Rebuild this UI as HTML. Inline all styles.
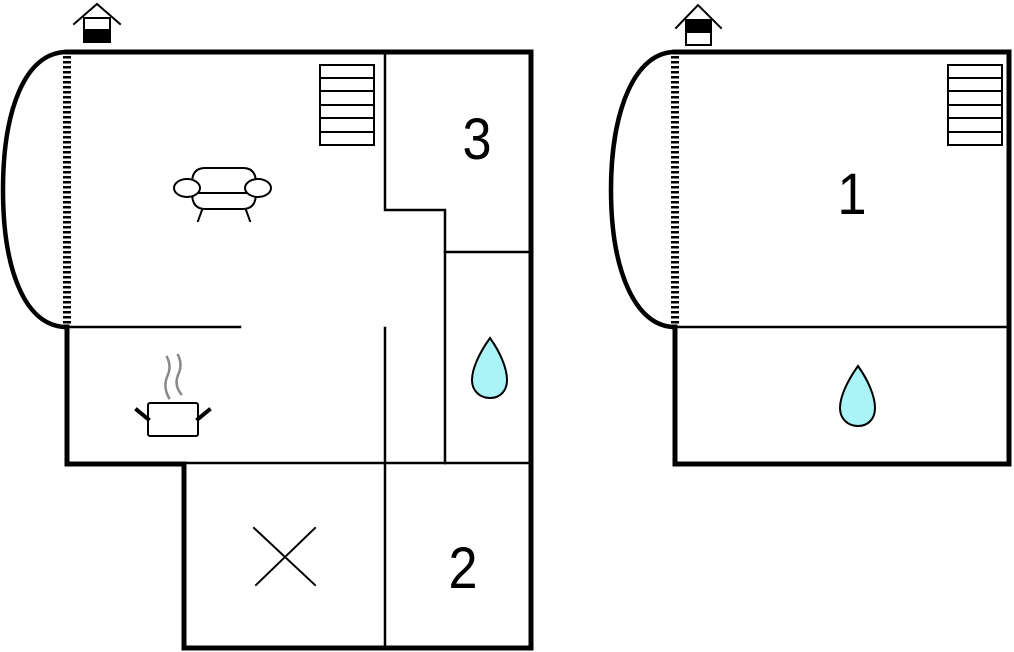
<!DOCTYPE html>
<html><head><style>html,body{margin:0;padding:0;background:#fff;width:1014px;height:652px;overflow:hidden}</style></head>
<body>
<svg width="1014" height="652" viewBox="0 0 1014 652" xmlns="http://www.w3.org/2000/svg">
<g fill="none" stroke="#000" stroke-linecap="square">
<!-- LEFT PLAN outer -->
<path d="M67,52 L531,52 L531,648 L184,648 L184,464 L67,464 L67,327" stroke-width="5"/>
<path d="M67,52 C25,52 3,110 3,190 C3,270 25,327 67,327" stroke-width="4.5"/>
<line x1="67" y1="56" x2="67" y2="326" stroke-width="8" stroke-dasharray="2.5,2.5" stroke-linecap="butt"/>
<g stroke-width="2.5">
<line x1="67" y1="327" x2="240" y2="327"/>
<path d="M385,52 L385,210 L445,210 L445,463"/>
<line x1="445" y1="252" x2="531" y2="252"/>
<line x1="184" y1="463" x2="531" y2="463"/>
<line x1="385" y1="328" x2="385" y2="648"/>
</g>
<!-- stairs left -->
<g stroke-width="2">
<rect x="320" y="65" width="54" height="80"/>
<line x1="320" y1="78" x2="374" y2="78"/><line x1="320" y1="91" x2="374" y2="91"/>
<line x1="320" y1="105" x2="374" y2="105"/><line x1="320" y1="118" x2="374" y2="118"/>
<line x1="320" y1="132" x2="374" y2="132"/>
</g>
<!-- sofa -->
<g stroke-width="2">
<path d="M192,183 Q192,168 205,168 L243,168 Q256,168 256,183"/>
<path d="M192,193 Q192,209 205,209 L243,209 Q256,209 256,193"/>
<line x1="196" y1="193" x2="252" y2="193"/>
<ellipse cx="187" cy="188" rx="13" ry="9" fill="#fff"/>
<ellipse cx="258" cy="188" rx="13" ry="9" fill="#fff"/>
<line x1="202" y1="210" x2="198" y2="221"/><line x1="246" y1="210" x2="250" y2="221"/>
</g>
<!-- pot -->
<rect x="148" y="403" width="50" height="33" rx="2" stroke-width="2"/>
<line x1="137" y1="410" x2="148" y2="419" stroke-width="4"/>
<line x1="209" y1="410" x2="198" y2="419" stroke-width="4"/>
<path d="M167,357 Q172,367 167,377 Q163,387 169,398" stroke="#888" stroke-width="2.5"/>
<path d="M178,355 Q183,365 178,375 Q174,385 181,394" stroke="#888" stroke-width="2.5"/>
<!-- X -->
<line x1="254" y1="528" x2="315" y2="585" stroke-width="2"/>
<line x1="315" y1="528" x2="256" y2="585" stroke-width="2"/>
<!-- drop left -->
<path d="M490,338 C480,352 472,368 472,380 C472,391 480,398 490,398 C500,398 507,391 507,380 C507,368 500,352 490,338 Z" fill="#aaf4f8" stroke-width="2"/>
<!-- house icon left -->
<path d="M74,24 L97,4 L120,24" stroke-width="2"/>
<rect x="84" y="18" width="26" height="24" stroke-width="2"/>
<rect x="84" y="30" width="26" height="12" fill="#000" stroke-width="2"/>

<!-- RIGHT PLAN -->
<path d="M675,52 L1009,52 L1009,464 L675,464 L675,327" stroke-width="5"/>
<path d="M675,52 C635,52 611,110 611,190 C611,270 635,327 675,327" stroke-width="4.5"/>
<line x1="675" y1="56" x2="675" y2="326" stroke-width="8" stroke-dasharray="2.5,2.5" stroke-linecap="butt"/>
<line x1="675" y1="327" x2="1009" y2="327" stroke-width="2.5"/>
<g stroke-width="2">
<rect x="948" y="65" width="54" height="80"/>
<line x1="948" y1="78" x2="1002" y2="78"/><line x1="948" y1="91" x2="1002" y2="91"/>
<line x1="948" y1="105" x2="1002" y2="105"/><line x1="948" y1="118" x2="1002" y2="118"/>
<line x1="948" y1="132" x2="1002" y2="132"/>
</g>
<path d="M858,366 C848,380 840,396 840,408 C840,419 848,426 858,426 C868,426 875,419 875,408 C875,396 868,380 858,366 Z" fill="#aaf4f8" stroke-width="2"/>
<path d="M676,28 L698,5 L721,28" stroke-width="2"/>
<rect x="686" y="20" width="25" height="25" stroke-width="2"/>
<rect x="686" y="20" width="25" height="12" fill="#000" stroke-width="2"/>
</g>
<g font-family="Liberation Sans, sans-serif" font-size="58" text-anchor="middle" fill="#000">
<text x="477" y="159" transform="translate(477 0) scale(0.9 1) translate(-477 0)">3</text>
<text x="463" y="588" transform="translate(463 0) scale(0.9 1) translate(-463 0)">2</text>
<text x="852" y="214" transform="translate(852 0) scale(0.9 1) translate(-852 0)">1</text>
</g>
</svg>
</body></html>
